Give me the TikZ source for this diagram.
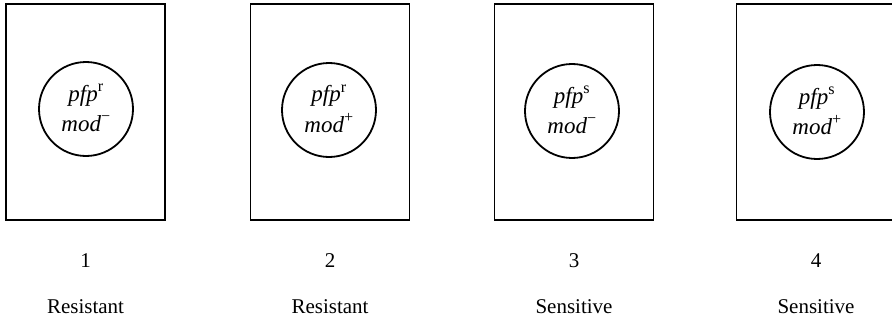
\documentclass[tikz,border=0pt]{standalone}
\usepackage{fontspec}
\setmainfont{Liberation Serif}
\begin{document}
\begin{tikzpicture}[x=1pt,y=-1pt,
  cellbox/.style={draw, line width=1.8pt, minimum width=159pt, minimum height=216pt, inner sep=0pt},
  nucleus/.style={draw, circle, line width=1.8pt, minimum size=94pt, inner sep=0pt},
  geno/.style={font=\fontsize{23}{23}\selectfont\itshape, inner sep=0pt, anchor=base},
  caption/.style={font=\fontsize{21}{21}\selectfont, inner sep=0pt, anchor=base}]
\useasboundingbox (0,0) rectangle (892,321);
\foreach \i/\bx/\cx/\cy/\g/\m/\lab in {
  1/85.5/86/109/r/−/Resistant,
  2/330/329/110/r/+/Resistant,
  3/574/572/111/s/−/Sensitive,
  4/816/817/112/s/+/Sensitive}{
  \node[cellbox] (box\i) at (\bx,112) {};
  \node[nucleus] (cell\i) at (\cx,\cy) {};
  \node[geno] (pfp\i) at ([yshift=8pt]cell\i.center) {pfp\textsuperscript{\upshape\g}};
  \node[geno] (mod\i) at ([yshift=-22pt]cell\i.center) {mod\textsuperscript{\upshape\m}};
  \node[caption] (num\i) at (\bx,267) {\i};
  \node[caption] (lab\i) at (\bx,313) {\lab};
}
\end{tikzpicture}
\end{document}
